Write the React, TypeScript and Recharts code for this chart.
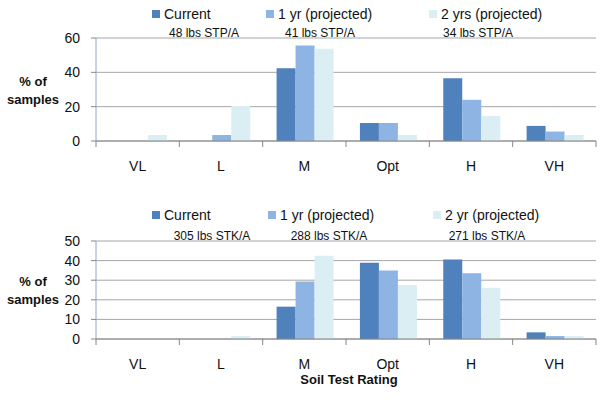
import React from "react";
import { BarChart, Bar, XAxis, YAxis, CartesianGrid } from "recharts";

const FONT = '"Liberation Sans", Arial, sans-serif';

const categories = ["VL", "L", "M", "Opt", "H", "VH"];

// phosphorus (STP), % of samples
const stpCurrent = [0, 0, 42.4, 10.5, 36.6, 8.8];
const stp1yr = [0, 3.5, 55.7, 10.5, 24, 5.5];
const stp2yr = [3.5, 20.4, 53.7, 3.5, 14.6, 3.5];
const stpTicks = [0, 20, 40, 60];
const stpLegend = ["Current", "1 yr (projected)", "2 yrs (projected)"];
const stpNotes = ["48 lbs STP/A", "41 lbs STP/A", "34 lbs STP/A"];

// potassium (STK), % of samples
const stkCurrent = [0, 0, 16.5, 38.9, 40.5, 3.4];
const stk1yr = [0, 0, 29.3, 35, 33.5, 1.5];
const stk2yr = [0, 1.5, 42.5, 27.6, 26.2, 1.5];
const stkTicks = [0, 10, 20, 30, 40, 50];
const stkLegend = ["Current", "1 yr (projected)", "2 yr (projected)"];
const stkNotes = ["305 lbs STK/A", "288 lbs STK/A", "271 lbs STK/A"];

const COLORS = ["#4F81BD", "#8DB4E2", "#DAEEF3"];

const PLOT_LEFT = 96;
const PLOT_RIGHT = 596;
const BAND = (PLOT_RIGHT - PLOT_LEFT) / categories.length;

const toRows = (a: number[], b: number[], c: number[]) =>
  categories.map((cat, i) => ({ cat, cur: a[i], y1: b[i], y2: c[i] }));

function CategoryTick(props: any) {
  const { x, y, payload, index } = props;
  const last = index === categories.length - 1;
  return (
    <g>
      <line x1={x - BAND / 2} x2={x - BAND / 2} y1={y} y2={y + 6} stroke="#868686" />
      {last && <line x1={x + BAND / 2} x2={x + BAND / 2} y1={y} y2={y + 6} stroke="#868686" />}
      <text
        x={x}
        y={y + 25}
        textAnchor="middle"
        dominantBaseline="central"
        fontSize={14}
        fontFamily={FONT}
        fill="#111"
      >
        {payload.value}
      </text>
    </g>
  );
}

interface PanelProps {
  top: number;
  rows: any[];
  ticks: number[];
  legend: string[];
  legendX: number[];
  legendY: number;
  notes: string[];
  notesX: number[];
  notesY: number;
  marginTop: number;
  axisHeight: number;
  showXTitle?: boolean;
}

function Panel(p: PanelProps) {
  const max = p.ticks[p.ticks.length - 1];
  return (
    <div style={{ position: "absolute", left: 0, top: p.top, width: 600, height: 200, fontFamily: FONT }}>
      <BarChart
        width={600}
        height={200}
        data={p.rows}
        margin={{ top: p.marginTop, right: 600 - PLOT_RIGHT, left: 0, bottom: 0 }}
        barGap={0}
        barCategoryGap="16.7%"
      >
        <CartesianGrid vertical={false} stroke="#a6a6a6" />
        <XAxis
          dataKey="cat"
          height={p.axisHeight}
          interval={0}
          tickSize={0}
          tickMargin={0}
          tickLine={false}
          axisLine={{ stroke: "#868686" }}
          tick={<CategoryTick />}
        />
        <XAxis
          xAxisId="frame"
          dataKey="cat"
          orientation="top"
          height={0}
          tick={false}
          tickLine={false}
          axisLine={{ stroke: "#95B3D7" }}
        />
        <YAxis
          width={PLOT_LEFT}
          domain={[0, max]}
          ticks={p.ticks}
          interval={0}
          tickSize={5}
          tickMargin={11}
          tick={{ fontSize: 14, fill: "#111", fontFamily: FONT }}
          axisLine={{ stroke: "#8EA6C4" }}
          tickLine={{ stroke: "#868686" }}
        />
        <YAxis
          yAxisId="frame"
          orientation="right"
          width={0}
          tick={false}
          tickLine={false}
          axisLine={{ stroke: "#95B3D7" }}
        />
        <Bar dataKey="cur" fill={COLORS[0]} isAnimationActive={false} />
        <Bar dataKey="y1" fill={COLORS[1]} isAnimationActive={false} />
        <Bar dataKey="y2" fill={COLORS[2]} isAnimationActive={false} />
      </BarChart>

      {p.legend.map((name, i) => (
        <div
          key={name}
          style={{
            position: "absolute",
            left: p.legendX[i],
            top: p.legendY - 9,
            height: 18,
            display: "flex",
            alignItems: "center",
            fontSize: 14,
            color: "#111",
            whiteSpace: "nowrap",
          }}
        >
          <span style={{ width: 8, height: 8, background: COLORS[i], marginRight: 4, display: "inline-block" }} />
          {name}
        </div>
      ))}

      {p.notes.map((t, i) => (
        <div
          key={t}
          style={{
            position: "absolute",
            left: p.notesX[i] - 60,
            width: 120,
            top: p.notesY - 8,
            lineHeight: "16px",
            textAlign: "center",
            fontSize: 12,
            color: "#111",
          }}
        >
          {t}
        </div>
      ))}

      <div
        style={{
          position: "absolute",
          left: 0,
          width: 66,
          top: 73,
          textAlign: "center",
          fontSize: 13,
          fontWeight: "bold",
          lineHeight: "17.6px",
          color: "#111",
        }}
      >
        % of
        <br />
        samples
      </div>

      {p.showXTitle && (
        <div
          style={{
            position: "absolute",
            left: 249,
            width: 200,
            top: 171,
            lineHeight: "18px",
            textAlign: "center",
            fontSize: 13,
            fontWeight: "bold",
            color: "#111",
          }}
        >
          Soil Test Rating
        </div>
      )}
    </div>
  );
}

export default function App() {
  return (
    <div style={{ position: "absolute", left: 0, top: 0, width: 600, height: 400, background: "#fff" }}>
      <Panel
        top={0}
        rows={toRows(stpCurrent, stp1yr, stp2yr)}
        ticks={stpTicks}
        legend={stpLegend}
        legendX={[152, 266, 429]}
        legendY={13.5}
        notes={stpNotes}
        notesX={[204, 320, 478]}
        notesY={33}
        marginTop={38}
        axisHeight={59}
      />
      <Panel
        top={200}
        rows={toRows(stkCurrent, stk1yr, stk2yr)}
        ticks={stkTicks}
        legend={stkLegend}
        legendX={[152, 268, 433]}
        legendY={15}
        notes={stkNotes}
        notesX={[212, 329, 487]}
        notesY={36}
        marginTop={41}
        axisHeight={61}
        showXTitle
      />
    </div>
  );
}
